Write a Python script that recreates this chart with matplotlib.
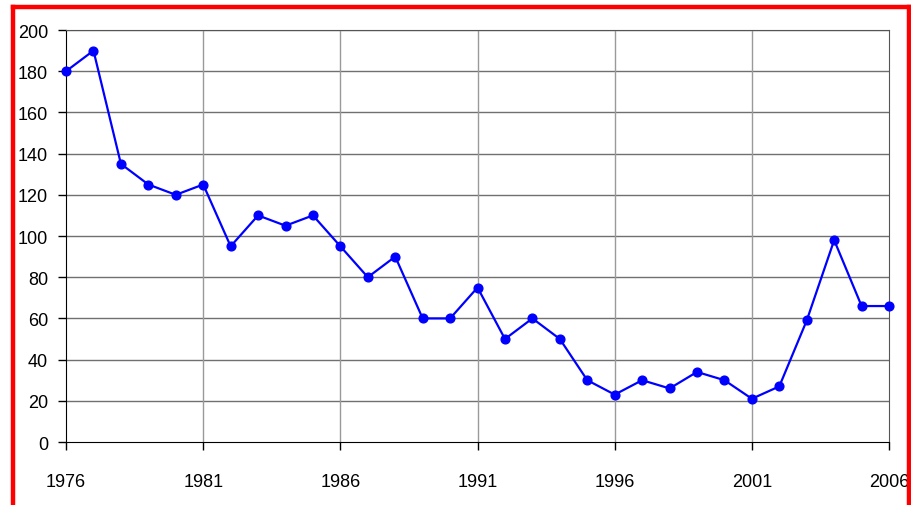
import matplotlib.pyplot as plt
from matplotlib.lines import Line2D

# Données
years = list(range(1976, 2007))
values = [180, 190, 135, 125, 120, 125, 95, 110, 105, 110,
          95, 80, 90, 60, 60, 75, 50, 60, 50, 30,
          23, 30, 26, 34, 30, 21, 27, 59, 98, 66, 66]
xticks = [1976, 1981, 1986, 1991, 1996, 2001, 2006]
yticks = list(range(0, 201, 20))

plt.rcParams['font.family'] = ['Liberation Sans', 'DejaVu Sans']

fig = plt.figure(figsize=(9.11, 5.06), dpi=100)
ax = fig.add_axes([0.0725, 0.1245, 0.9034, 0.8142])

# grille
for y in yticks[1:]:
    ax.axhline(y, color='#707070', lw=1, zorder=1)
for x in xticks[1:-1]:
    ax.axvline(x, color='#9a9a9a', lw=1, zorder=1)

ax.plot(years, values, color='#0000ff', lw=1.6, marker='o', markersize=6.3,
        clip_on=False, zorder=3)

ax.set_xlim(1976, 2006)
ax.set_ylim(0, 200)
ax.set_xticks(xticks)
ax.set_yticks(yticks)
ax.tick_params(axis='x', direction='out', length=6, width=1, pad=16, labelsize=13)
ax.tick_params(axis='y', direction='out', length=6, width=1, pad=7, labelsize=13)

for side in ['left', 'bottom']:
    ax.spines[side].set_color('black')
for side in ['top', 'right']:
    ax.spines[side].set_color('#555555')

# cadre rouge
W, H = 911, 506
x0, x1, y0 = 13 / W, 909 / W, 1 - 7.5 / H
kw = dict(color='#ff0000', lw=3.2, transform=fig.transFigure, solid_capstyle='projecting')
fig.add_artist(Line2D([x0, x0], [-0.05, y0], **kw))
fig.add_artist(Line2D([x0, x1], [y0, y0], **kw))
fig.add_artist(Line2D([x1, x1], [-0.05, y0], **kw))

fig.savefig('out.png', dpi=100)
